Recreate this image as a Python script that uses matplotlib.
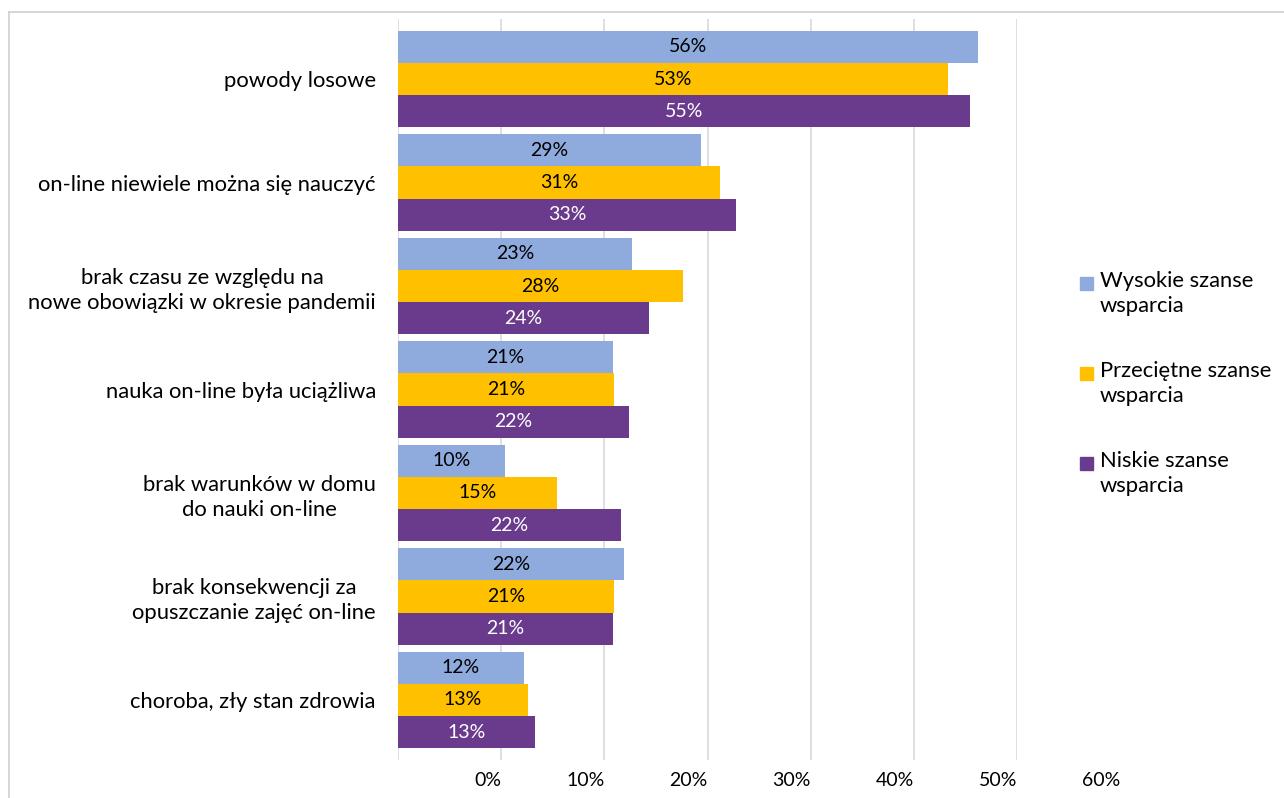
import matplotlib.pyplot as plt
import numpy as np
from matplotlib.patches import Rectangle
from matplotlib.transforms import blended_transform_factory

plt.rcParams['font.family'] = ['Lato', 'DejaVu Sans']

# categories (top to bottom)
categories = [
    'powody losowe',
    'on-line niewiele można się nauczyć',
    'brak czasu ze względu na\nnowe obowiązki w okresie pandemii',
    'nauka on-line była uciążliwa',
    'brak warunków w domu\ndo nauki on-line',
    'brak konsekwencji za\nopuszczanie zajęć on-line',
    'choroba, zły stan zdrowia',
]
series_names = ['Wysokie szanse\nwsparcia', 'Przeciętne szanse\nwsparcia', 'Niskie szanse\nwsparcia']
wysokie = [56.2, 29.4, 22.7, 20.8, 10.4, 21.9, 12.2]
przecietne = [53.3, 31.2, 27.6, 20.9, 15.4, 20.9, 12.6]
niskie = [55.4, 32.8, 24.3, 22.4, 21.6, 20.8, 13.3]
tick_vals = [0, 10, 20, 30, 40, 50, 60]
tick_labels = ['0%', '10%', '20%', '30%', '40%', '50%', '60%']

colors = ['#8FAADC', '#FFC000', '#6A3B8C']
text_colors = ['black', 'black', 'white']

W, H = 1284, 798
fig = plt.figure(figsize=(W / 100, H / 100), dpi=100)
ax = fig.add_axes([398 / W, (H - 760) / H, (1017 - 398) / W, (760 - 19) / H])

y = np.arange(len(categories))
h = 0.31
for i, (vals, c, tc) in enumerate(zip([wysokie, przecietne, niskie], colors, text_colors)):
    bars = ax.barh(y + (i - 1) * h, vals, height=h, color=c, zorder=2)
    ax.bar_label(bars, labels=[f'{v:.0f}%' for v in vals], label_type='center',
                 color=tc, fontsize=14)

ax.set_ylim(6.58, -0.58)
ax.set_xlim(0, 60)
ax.set_yticks(y)
ax.set_yticklabels(categories, fontsize=15.8, multialignment='center', linespacing=1.3)
ax.tick_params(axis='y', length=0, pad=16)
ax.set_xticks(tick_vals)
ax.set_xticklabels([])
ax.tick_params(axis='x', length=0)
ax.grid(axis='x', color='#D9D9D9', linewidth=1.2, zorder=0)
for s in ax.spines.values():
    s.set_visible(False)

# x labels sit shifted one step to the right, right-aligned at next gridline
tr = blended_transform_factory(ax.transData, fig.transFigure)
for v, lab in zip(tick_vals, tick_labels):
    ax.text(v + 10, (H - 781) / H, lab, transform=tr, ha='right', va='center',
            fontsize=14, clip_on=False)

# legend drawn by hand
leg_y = [283, 373, 463]
for name, c, ly in zip(series_names, colors, leg_y):
    fig.add_artist(Rectangle((1080 / W, (H - ly - 7) / H), 13 / W, 13 / H,
                             transform=fig.transFigure, color=c))
    fig.text(1100 / W, (H - ly + 12) / H, name, ha='left', va='top', fontsize=15.8,
             linespacing=1.3)

# outer frame
fig.add_artist(plt.Line2D([9 / W, 1], [(H - 12) / H, (H - 12) / H], color='#D0D0D0',
                          linewidth=1.2, transform=fig.transFigure))
fig.add_artist(plt.Line2D([9 / W, 9 / W], [0, (H - 12) / H], color='#D0D0D0',
                          linewidth=1.2, transform=fig.transFigure))

plt.savefig('out.png', dpi=100)
